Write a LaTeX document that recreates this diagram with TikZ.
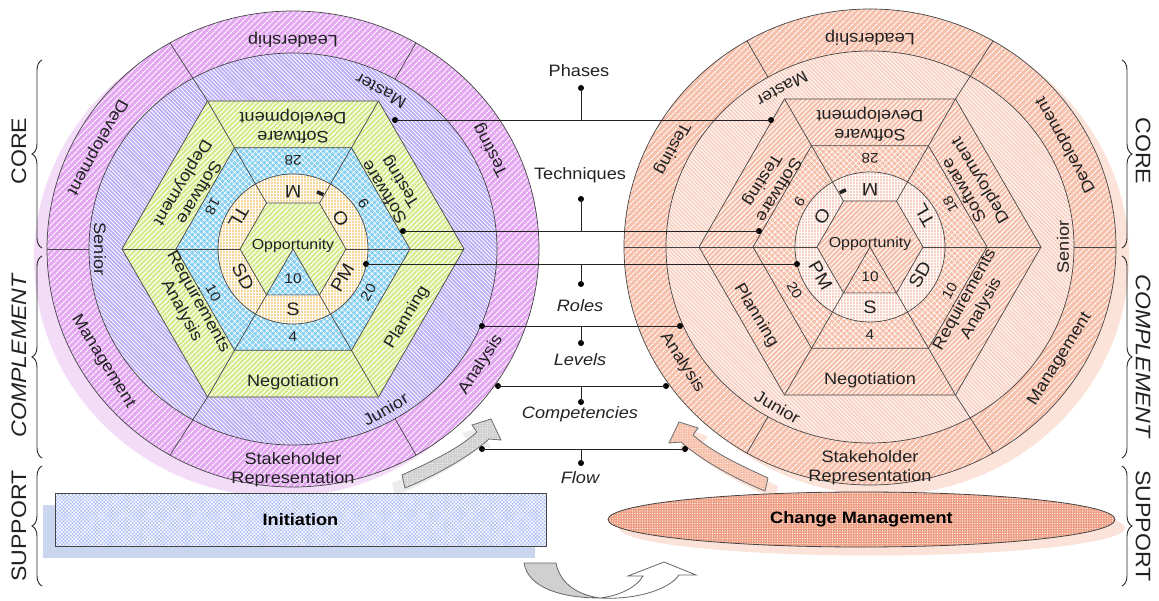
\documentclass[tikz,border=0pt]{standalone}
\usepackage{fontspec}
\setmainfont{Liberation Sans}[FakeStretch=1.1]
\usetikzlibrary{calc,patterns,patterns.meta,shapes.geometric,decorations.pathreplacing}

\definecolor{edgegray}{HTML}{454545}
\definecolor{inkgray}{HTML}{222222}
\definecolor{bandpurple}{HTML}{E4A8F2}
\definecolor{levelblue}{HTML}{BCAEF6}
\definecolor{phasegreen}{HTML}{D6EB8E}
\definecolor{techblue}{HTML}{8AD1F2}
\definecolor{roleorange}{HTML}{F6D699}
\definecolor{shadowpurple}{HTML}{F2DCF7}
\definecolor{salmon}{HTML}{F6C0AB}
\definecolor{lightsalmon}{HTML}{F9D1C2}
\definecolor{shadowsalmon}{HTML}{FBE3DA}
\definecolor{initblue}{HTML}{A9BBF2}
\definecolor{initshadow}{HTML}{CAD6EE}
\definecolor{changered}{HTML}{EE9E82}
\definecolor{arrowgray}{HTML}{D0D0D0}
\definecolor{arrowshadow}{HTML}{ECECEC}

\tikzset{
  edge/.style={draw=edgegray, line width=0.7pt},
  hatched/.style 2 args={preaction={fill=#1}, pattern={#2}, pattern color=white, edge},
  spoke/.style={draw=edgegray, line width=0.7pt},
  wtext/.style={text=inkgray, inner sep=1pt, font=\fontsize{16.5}{19}\selectfont},
  bandtext/.style={wtext},
  numtext/.style={wtext, font=\fontsize{14}{16}\selectfont},
  roletext/.style={wtext, font=\fontsize{18}{20}\selectfont},
  optext/.style={wtext, font=\fontsize{14.5}{16}\selectfont},
  tick/.style={fill=inkgray, inner sep=0pt, minimum width=7pt, minimum height=3.5pt},
  dot/.style={circle, fill=black, inner sep=0pt, minimum size=6pt},
  conn/.style={draw=inkgray, line width=0.8pt},
  conlabel/.style={text=inkgray, font=\fontsize{16.5}{19}\selectfont},
  sidelabel/.style={text=inkgray, font=\fontsize{21}{24}\selectfont},
  sidebrace/.style={decorate, decoration={brace, amplitude=10pt}, draw=inkgray, line width=0.9pt},
  flowarrow/.style={draw=gray!85!black, line width=0.8pt},
  uarrow/.style={draw=gray!80!black, line width=0.8pt},
}

% label on a wheel: [style]{name}{angle}{x radius}{y radius}{text}
\newcommand{\wlab}[6][]{%
  \pgfmathsetmacro\wphi{90-(\ws)*(90-(#3))}%
  \node[wtext,#1,rotate=\wphi+90] (\wpre-#2) at ($(\wpre)+(\wphi:#4 and #5)$) {#6};}

% one wheel: {prefix}{x}{y}{mirror}{band dividers}{full dividers}
\newcommand{\wheel}[6]{%
  \def\wpre{#1}\def\ws{#4}%
  \coordinate (#1) at (#2,#3);
  \draw[band] (#1) ellipse [x radius=246, y radius=238];
  \draw[level] (#1) ellipse [x radius=204, y radius=196];
  \foreach \a in {0,60,...,300}{
    \coordinate (#1h\a) at ($(#1)+(\a:171)$);
    \coordinate (#1t\a) at ($(#1)+(\a:117)$);
    \coordinate (#1o\a) at ($(#1)+(\a:53)$);
  }
  \draw[phase] (#1h0) -- (#1h60) -- (#1h120) -- (#1h180) -- (#1h240) -- (#1h300) -- cycle;
  \draw[tech] (#1t0) -- (#1t60) -- (#1t120) -- (#1t180) -- (#1t240) -- (#1t300) -- cycle;
  \draw[role] (#1) circle [radius=75];
  \draw[phase] (#1o0) -- (#1o60) -- (#1o120) -- (#1o180) -- (#1o240) -- (#1o300) -- cycle;
  \draw[tech] (#1) -- (#1o240) -- (#1o300) -- cycle;
  % spokes
  \foreach \a in {0,60,...,300}
    \draw[spoke] (#1o\a) -- (#1h\a);
  \foreach \a in {#5}
    \draw[spoke] ($(#1)+(\a:204 and 196)$) -- ($(#1)+(\a:246 and 238)$);
  \foreach \a in {#6}
    \draw[spoke] (#1h\a) -- ($(#1)+(\a:246 and 238)$);
  % competencies
  \wlab[bandtext]{lead}{90}{224}{209}{Leadership}
  \wlab[bandtext]{test}{28}{224}{210}{Testing}
  \wlab[bandtext]{dev}{151}{224}{210}{Development}
  \wlab[bandtext]{mgmt}{212}{224}{212}{Management}
  \wlab[bandtext]{anal}{-33}{224}{212}{Analysis}
  \wlab[bandtext,align=center]{stake}{270}{224}{221}{Stakeholder\\Representation}
  % levels
  \wlab{master}{61}{181}{181}{Master}
  \wlab{senior}{180}{193}{193}{Senior}
  \wlab{junior}{-60}{185}{185}{Junior}
  % phases
  \wlab[align=center]{sdev}{90}{123}{123}{Software\\Development}
  \wlab[align=center]{stest}{32}{118}{118}{Software\\Testing}
  \wlab[align=center]{sdep}{149}{120}{120}{Software\\Deployment}
  \wlab{plan}{-31}{133}{133}{Planning}
  \wlab{nego}{270}{133}{133}{Negotiation}
  \wlab[align=center]{req}{209}{118}{118}{Requirements\\Analysis}
  % techniques
  \wlab[numtext]{n28}{90}{89}{89}{28}
  \wlab[numtext]{n9}{33}{84}{84}{9}
  \wlab[numtext]{n18}{152}{91}{91}{18}
  \wlab[numtext]{n20}{-30}{87}{87}{20}
  \wlab[numtext]{n10}{209}{91}{91}{10}
  \wlab[numtext]{n4}{270}{88}{88}{4}
  % roles
  \wlab[roletext]{m}{90}{57}{57}{M}
  \wlab[roletext]{o}{33}{57}{57}{O}
  \wlab[roletext]{tl}{150}{63}{63}{TL}
  \wlab[roletext]{pm}{-30}{57}{57}{PM}
  \wlab[roletext]{sd}{209}{57}{57}{SD}
  \wlab[roletext]{s}{270}{60}{60}{S}
  \pgfmathsetmacro\wphi{90-(\ws)*(90-64)}
  \node[tick,rotate=\wphi+90] (#1-tick) at ($(#1)+(\wphi:62)$) {};
  \node[optext] (#1-opp) at ($(#1)+(0,3)$) {Opportunity};
  \node[numtext] (#1-ten) at ($(#1)+(0,-30)$) {10};
}

\begin{document}
\begin{tikzpicture}[x=1pt,y=1pt]
\useasboundingbox (0,0) rectangle (1159,-601);

% shadows
\fill[shadowpurple] (280,-259) ellipse [x radius=246, y radius=238];
\fill[shadowsalmon] (883,-257) ellipse [x radius=246, y radius=238];

\begin{scope}[band/.style={hatched={bandpurple}{Lines[angle=45,distance=4pt,line width=1.2pt]}},
  level/.style={hatched={levelblue}{Lines[angle=-45,distance=2.8pt,line width=0.8pt]}},
  phase/.style={hatched={phasegreen}{Lines[angle=45,distance=3.5pt,line width=1pt]}},
  tech/.style={hatched={techblue}{Hatch[angle=45,distance=4pt,line width=0.8pt]}},
  role/.style={hatched={roleorange}{Hatch[angle=0,distance=3pt,line width=0.7pt]}}]
  \wheel{L}{293}{-249}{1}{60,180,300}{120,240}
\end{scope}

\begin{scope}[band/.style={hatched={salmon}{Lines[angle=45,distance=4pt,line width=1.2pt]}},
  level/.style={hatched={lightsalmon}{Lines[angle=-45,distance=2.8pt,line width=0.8pt]}},
  phase/.style={hatched={salmon}{Lines[angle=45,distance=3.5pt,line width=1pt]}},
  tech/.style={hatched={salmon}{Hatch[angle=45,distance=4pt,line width=0.8pt]}},
  role/.style={hatched={lightsalmon}{Hatch[angle=0,distance=3pt,line width=0.7pt]}}]
  \wheel{R}{870}{-247}{-1}{0,120,240}{60,180,300}
\end{scope}

% flow arrows
\fill[arrowshadow] (392,-483) .. controls (418,-471) and (447,-458) .. (467,-440) -- (462,-433) -- (481,-427) -- (491,-448) -- (479,-447) .. controls (458,-466) and (422,-485) .. (395,-496) -- cycle;
\path[flowarrow, preaction={fill=arrowgray}, pattern={Dots[distance=2.5pt,radius=0.5pt]}, pattern color=white]
  (402,-475) .. controls (428,-463) and (457,-450) .. (477,-432) -- (472,-425) -- (491,-419) -- (501,-440) -- (489,-439) .. controls (468,-458) and (432,-477) .. (405,-488) -- cycle;
\fill[shadowsalmon] (778,-486) .. controls (752,-474) and (723,-461) .. (703,-443) -- (708,-436) -- (689,-430) -- (679,-451) -- (691,-450) .. controls (712,-469) and (748,-488) .. (775,-499) -- cycle;
\path[flowarrow, preaction={fill=salmon}, pattern={Dots[distance=2.5pt,radius=0.5pt]}, pattern color=white]
  (768,-478) .. controls (742,-466) and (713,-453) .. (693,-435) -- (698,-428) -- (679,-422) -- (669,-443) -- (681,-442) .. controls (702,-461) and (738,-480) .. (765,-491) -- cycle;

% support boxes
\fill[initshadow] (43,-505) rectangle (535,-558);
\node[draw=edgegray, line width=0.8pt, preaction={fill=initblue}, pattern={Hatch[angle=45,distance=2.5pt,line width=0.6pt]}, pattern color=white,
  minimum width=491pt, minimum height=53pt, inner sep=0pt, text=black, font=\bfseries\fontsize{16.5}{19}\selectfont] (init) at (300.5,-519.5) {Initiation};
\fill[shadowsalmon] (872,-528) ellipse [x radius=253, y radius=27.5];
\node[ellipse, draw=edgegray, line width=0.8pt, preaction={fill=changered}, pattern={Dots[distance=2.5pt,radius=0.6pt]}, pattern color=white,
  minimum width=507pt, minimum height=55pt, inner sep=0pt, text=black, font=\bfseries\fontsize{16.5}{19}\selectfont] (change) at (861.5,-519.5) {Change Management};

% bottom turn arrow
\draw[uarrow, fill=arrowgray] (524,-563) -- (556,-563) .. controls (560,-584) and (578,-595) .. (600,-598) .. controls (562,-598) and (528,-588) .. (524,-563) -- cycle;
\draw[uarrow, fill=white] (600,-598) .. controls (618,-596) and (636,-588) .. (643,-576) -- (628,-576) -- (664,-562) -- (696,-575) -- (679,-575) .. controls (668,-591) and (632,-600) .. (600,-598) -- cycle;

% connectors
\node[conlabel] (phases) at (579,-71) {Phases};
\node[dot] (phasesdot) at (581,-88) {};
\node[dot] (phasesL) at (395,-120) {};
\node[dot] (phasesR) at (771,-120) {};
\coordinate (phasesJ) at (581,-120);
\draw[conn] (phasesL.center) -- (phasesR.center);
\draw[conn] (phasesdot.center) -- (phasesJ);

\node[conlabel] (techniques) at (580,-175) {Techniques};
\node[dot] (techniquesdot) at (581,-199) {};
\node[dot] (techniquesL) at (403,-231) {};
\node[dot] (techniquesR) at (759,-231) {};
\coordinate (techniquesJ) at (581,-231);
\draw[conn] (techniquesL.center) -- (techniquesR.center);
\draw[conn] (techniquesdot.center) -- (techniquesJ);

\node[conlabel, font=\itshape\fontsize{16.5}{19}\selectfont] (roles) at (580,-306) {Roles};
\node[dot] (rolesdot) at (581,-284) {};
\node[dot] (rolesL) at (366,-264) {};
\node[dot] (rolesR) at (797,-264) {};
\coordinate (rolesJ) at (581,-264);
\draw[conn] (rolesL.center) -- (rolesR.center);
\draw[conn] (rolesdot.center) -- (rolesJ);

\node[conlabel, font=\itshape\fontsize{16.5}{19}\selectfont] (levels) at (580,-360) {Levels};
\node[dot] (levelsdot) at (581,-343) {};
\node[dot] (levelsL) at (482,-326) {};
\node[dot] (levelsR) at (680,-326) {};
\coordinate (levelsJ) at (581,-326);
\draw[conn] (levelsL.center) -- (levelsR.center);
\draw[conn] (levelsdot.center) -- (levelsJ);

\node[conlabel, font=\itshape\fontsize{16.5}{19}\selectfont] (competencies) at (580,-414) {Competencies};
\node[dot] (competenciesdot) at (581,-402) {};
\node[dot] (competenciesL) at (498,-386) {};
\node[dot] (competenciesR) at (666,-386) {};
\coordinate (competenciesJ) at (581,-386);
\draw[conn] (competenciesL.center) -- (competenciesR.center);
\draw[conn] (competenciesdot.center) -- (competenciesJ);

\node[conlabel, font=\itshape\fontsize{16.5}{19}\selectfont] (flow) at (580,-478) {Flow};
\node[dot] (flowdot) at (581,-463) {};
\node[dot] (flowL) at (482,-449) {};
\node[dot] (flowR) at (685,-449) {};
\coordinate (flowJ) at (581,-449);
\draw[conn] (flowL.center) -- (flowR.center);
\draw[conn] (flowdot.center) -- (flowJ);

% side braces
\draw[sidebrace] (42,-248) -- (42,-60);
\draw[sidebrace] (42,-458) -- (42,-256);
\draw[sidebrace] (42,-586) -- (42,-466);
\draw[sidebrace] (1122,-60) -- (1122,-248);
\draw[sidebrace] (1122,-256) -- (1122,-458);
\draw[sidebrace] (1122,-466) -- (1122,-586);
\node[sidelabel, rotate=90] (coreL) at (19,-151) {CORE};
\node[sidelabel, rotate=90, font=\itshape\fontsize{21}{24}\selectfont] (compL) at (19,-356) {COMPLEMENT};
\node[sidelabel, rotate=90] (suppL) at (19,-526) {SUPPORT};
\node[sidelabel, rotate=-90] (coreR) at (1143,-151) {CORE};
\node[sidelabel, rotate=-90, font=\itshape\fontsize{21}{24}\selectfont] (compR) at (1143,-356) {COMPLEMENT};
\node[sidelabel, rotate=-90] (suppR) at (1143,-526) {SUPPORT};
\end{tikzpicture}
\end{document}
